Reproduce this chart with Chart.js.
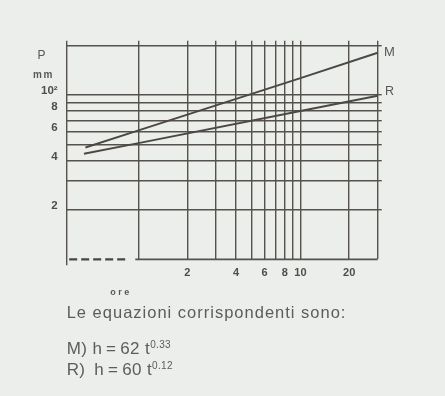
<!DOCTYPE html>
<html>
<head>
<meta charset="utf-8">
<script src="https://cdn.jsdelivr.net/npm/chart.js@4/dist/chart.umd.min.js"></script>
<style>
    body { margin: 0; background: #ebeeea; }
    #wrap { position: relative; width: 445px; height: 396px; overflow: hidden; background: #ebeeea;
            font-family: "Liberation Sans", Arial, Helvetica, sans-serif; color: #585858; }
    #chartBox { position: absolute; left: 0; top: 0; width: 445px; height: 300px; }
    .lbl { position: absolute; line-height: 1; white-space: nowrap; transform: translate(-50%, -50%); }
    .eq { position: absolute; left: 66.7px; line-height: 1; white-space: nowrap; transform: translateY(-50%);
          font-size: 16.5px; letter-spacing: 1px; color: #5c5c5c; }
    .eq.formula { font-size: 17px; letter-spacing: 0.4px; }
    .eq sup { font-size: 10px; vertical-align: 6px; line-height: 0; letter-spacing: 0.3px; }
</style>
</head>
<body>
<div id="wrap">
    <div id="chartBox"><canvas id="erosionChart" width="445" height="300"></canvas></div>
    <span class="lbl" style="left:41.5px; top:55px; font-size:12px;">P</span>
    <span class="lbl" style="left:43.5px; top:74.5px; font-size:10px; font-weight:bold; letter-spacing:1.5px;">mm</span>
    <span class="lbl" style="left:389.5px; top:51.3px; font-size:13px;">M</span>
    <span class="lbl" style="left:389.5px; top:90.8px; font-size:12.5px;">R</span>
    <span class="lbl" style="left:121px; top:291.5px; font-size:9px; font-weight:bold; letter-spacing:2.5px;">ore</span>
    <div class="eq" style="top:311.5px;">Le equazioni corrispondenti sono:</div>
    <div class="eq formula" style="top:348px;">M) h&#8201;=&#8201;62 t<sup>0.33</sup></div>
    <div class="eq formula" style="top:368.5px;">R)&#8201; h&#8201;=&#8201;60 t<sup>0.12</sup></div>
</div>

<script>
// Data (log-log scales)
const mTimes = [0.47, 1, 10, 30];
const mHeights = [48, 61, 127, 181];
const rTimes = [0.46, 1, 10, 30];
const rHeights = [44, 51, 80, 99];

// Axis break on the time axis (dashed) and the solid base line
const breakTimes = [0.373, 0.86];
const baseTimes = [0.955, 30];

// Grid and tick labels
const xMin = 0.36, xMax = 30;
const yMin = 10, yMax = 200;
const xGridValues = [xMin, 1, 2, 3, 4, 5, 6, 7, 8, 9, 10, 20, 30];
const xLabelValues = [2, 4, 6, 8, 10, 20];
const yGridValues = [10, 20, 30, 40, 50, 60, 70, 80, 90, 100, 200];
const yLabelValues = [20, 40, 60, 80, 100];
const yLabelTexts = ['2', '4', '6', '8', '10²'];

const ink = '#4c4844';
const gridColor = '#55514d';
const labelColor = '#4e4e4e';

function toPoints(xs, ys) {
    return xs.map((x, i) => ({ x: x, y: ys[i] }));
}

function setTicks(values) {
    return function(scale) {
        scale.ticks = values.map(v => ({ value: v }));
    };
}

const ctx = document.getElementById('erosionChart');

new Chart(ctx, {
    type: 'scatter',
    data: {
        datasets: [
            { label: 'M', data: toPoints(mTimes, mHeights), showLine: true, borderColor: ink, borderWidth: 2, pointRadius: 0 },
            { label: 'R', data: toPoints(rTimes, rHeights), showLine: true, borderColor: ink, borderWidth: 2, pointRadius: 0 },
            { label: 'break', data: breakTimes.map(t => ({ x: t, y: yMin })), showLine: true, borderColor: '#4a4642',
              borderWidth: 2.2, borderDash: [8, 4], borderCapStyle: 'butt', pointRadius: 0, clip: 6 },
            { label: 'base', data: baseTimes.map(t => ({ x: t, y: yMin })), showLine: true, borderColor: gridColor,
              borderWidth: 1.8, pointRadius: 0, clip: 6 }
        ]
    },
    options: {
        responsive: false,
        animation: false,
        events: [],
        layout: { padding: 0 },
        plugins: {
            legend: { display: false },
            tooltip: { enabled: false }
        },
        scales: {
            x: {
                type: 'logarithmic',
                position: 'bottom',
                min: xMin,
                max: xMax,
                afterBuildTicks: setTicks(xGridValues),
                afterFit: function(scale) { scale.height = 40.7; },
                border: { display: false },
                grid: {
                    color: gridColor,
                    lineWidth: 1.4,
                    tickLength: 6,
                    tickColor: c => (c.tick && c.tick.value === xMin) ? gridColor : 'rgba(0,0,0,0)'
                },
                ticks: {
                    autoSkip: false,
                    maxRotation: 0,
                    padding: 1,
                    color: labelColor,
                    font: { family: '"Liberation Sans", Arial, sans-serif', size: 11, weight: 'bold' },
                    callback: v => xLabelValues.includes(v) ? String(v) : ''
                }
            },
            xTop: {
                axis: 'x',
                type: 'logarithmic',
                position: 'top',
                min: xMin,
                max: xMax,
                afterBuildTicks: setTicks(xGridValues),
                afterFit: function(scale) { scale.height = 45.7; },
                border: { display: false },
                grid: { drawOnChartArea: false, tickLength: 5, tickColor: gridColor, lineWidth: 1.4 },
                ticks: { display: false }
            },
            y: {
                type: 'logarithmic',
                position: 'left',
                min: yMin,
                max: yMax,
                afterBuildTicks: setTicks(yGridValues),
                afterFit: function(scale) { scale.width = 66.7; },
                border: { display: false },
                grid: {
                    drawTicks: false,
                    lineWidth: 1.4,
                    color: c => (c.tick && c.tick.value === yMin) ? 'rgba(0,0,0,0)' : gridColor
                },
                ticks: {
                    autoSkip: false,
                    padding: 9,
                    labelOffset: -4,
                    color: labelColor,
                    font: { family: '"Liberation Sans", Arial, sans-serif', size: 11.5, weight: 'bold' },
                    callback: v => {
                        const i = yLabelValues.indexOf(v);
                        return i >= 0 ? yLabelTexts[i] : '';
                    }
                }
            },
            yRight: {
                axis: 'y',
                type: 'logarithmic',
                position: 'right',
                min: yMin,
                max: yMax,
                afterBuildTicks: setTicks(yGridValues),
                afterFit: function(scale) { scale.width = 67.3; },
                border: { display: false },
                grid: {
                    drawOnChartArea: false,
                    tickLength: 4,
                    lineWidth: 1.4,
                    tickColor: c => (c.tick && c.tick.value === yMin) ? 'rgba(0,0,0,0)' : gridColor
                },
                ticks: { display: false }
            }
        }
    }
});
</script>
</body>
</html>
